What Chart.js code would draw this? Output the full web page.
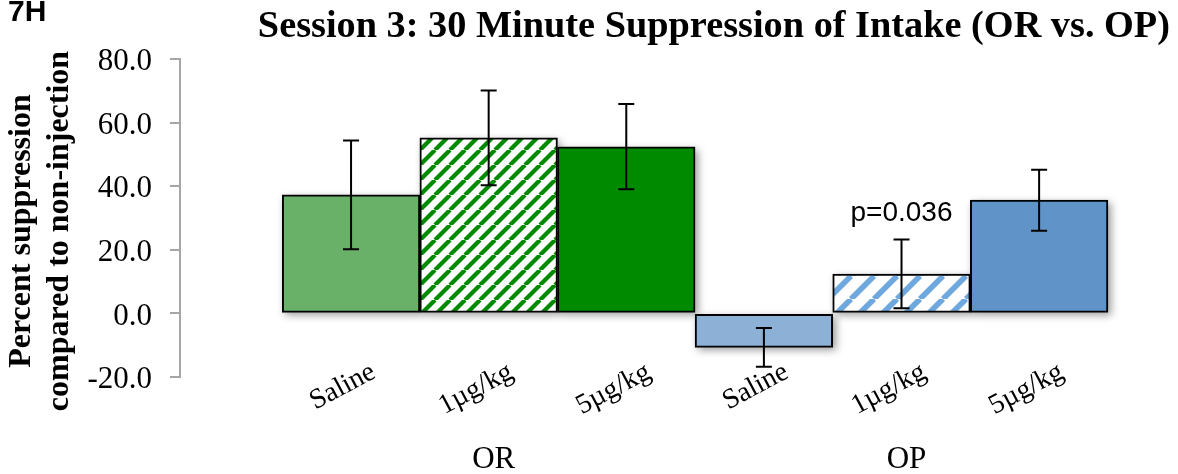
<!DOCTYPE html>
<html>
<head>
<meta charset="utf-8">
<title>Session 3: 30 Minute Suppression of Intake (OR vs. OP)</title>
<script src="https://cdn.jsdelivr.net/npm/chart.js@4.4.1/dist/chart.umd.min.js"></script>
<style>
  html, body { margin: 0; padding: 0; background: #fff; }
  canvas { display: block; }
</style>
</head>
<body>
<canvas id="chart" width="1178" height="474"></canvas>
<script>
const categorias = ["Saline", "1µg/kg", "5µg/kg", "Saline", "1µg/kg", "5µg/kg"];
const grupos = ["OR", "OP"];
const grupoDeBarra = [0, 0, 0, 1, 1, 1];
const supresion = [37.3, 55.2, 52.4, -10.7, 12.4, 35.6];
const errorEstandar = [17.1, 14.9, 13.4, 6.1, 10.8, 9.6];
const yTicks = [-20, 0, 20, 40, 60, 80];
const anotaciones = ["", "", "", "", "p=0.036", ""];

const SERIF = "'Liberation Serif', 'Times New Roman', serif";
const SANS = "'Liberation Sans', Arial, sans-serif";

/* ===========================================
                 RAYADO DIAGONAL
=========================================== */
function rayado(color, paso, grosor) {
  const c = document.createElement("canvas");
  c.width = paso;
  c.height = paso;
  const g = c.getContext("2d");
  g.fillStyle = "#fff";
  g.fillRect(0, 0, paso, paso);
  g.strokeStyle = color;
  g.lineWidth = grosor;
  for (let k = -1; k <= 1; k++) {
    g.beginPath();
    g.moveTo(k * paso, paso);
    g.lineTo(k * paso + paso, 0);
    g.stroke();
  }
  return g.createPattern(c, "repeat");
}

const colores = [
  "#69b068",
  rayado("#008a00", 15, 4.2),
  "#008a00",
  "#8db0d6",
  rayado("#6ea8de", 23, 5.7),
  "#6094c8"
];

/* ===========================================
        SOMBRAS, BARRAS DE ERROR Y TEXTOS
=========================================== */
const decoracion = {
  id: "decoracion",
  beforeDatasetsDraw(chart) {
    const ctx = chart.ctx;
    const barras = chart.getDatasetMeta(0).data;
    ctx.save();
    ctx.shadowColor = "rgba(0,0,0,0.4)";
    ctx.shadowBlur = 8;
    ctx.shadowOffsetX = 3;
    ctx.shadowOffsetY = 3;
    ctx.fillStyle = "#fff";
    barras.forEach(b => {
      const p = b.getProps(["x", "y", "base", "width"], true);
      const top = Math.min(p.y, p.base);
      ctx.fillRect(p.x - p.width / 2, top, p.width, Math.abs(p.base - p.y));
    });
    ctx.restore();
  },
  afterDatasetsDraw(chart) {
    const ctx = chart.ctx;
    const y = chart.scales.y;
    const barras = chart.getDatasetMeta(0).data;
    ctx.save();
    ctx.strokeStyle = "#000";
    ctx.lineWidth = 2;
    barras.forEach((b, i) => {
      const yHi = y.getPixelForValue(supresion[i] + errorEstandar[i]);
      const yLo = y.getPixelForValue(supresion[i] - errorEstandar[i]);
      ctx.beginPath();
      ctx.moveTo(b.x, yHi);
      ctx.lineTo(b.x, yLo);
      ctx.moveTo(b.x - 8, yHi);
      ctx.lineTo(b.x + 8, yHi);
      ctx.moveTo(b.x - 8, yLo);
      ctx.lineTo(b.x + 8, yLo);
      ctx.stroke();
    });
    ctx.restore();
  },
  afterDraw(chart) {
    const ctx = chart.ctx;
    const y = chart.scales.y;
    const barras = chart.getDatasetMeta(0).data;
    ctx.save();
    ctx.fillStyle = "#000";

    // etiquetas de categoría inclinadas
    ctx.font = `28px ${SERIF}`;
    ctx.textAlign = "right";
    ctx.textBaseline = "top";
    barras.forEach((b, i) => {
      ctx.save();
      ctx.translate(b.x + 16, 358);
      ctx.rotate(-28 * Math.PI / 180);
      ctx.fillText(categorias[i], 0, 0);
      ctx.restore();
    });

    // nombres de grupo
    ctx.font = `31px ${SERIF}`;
    ctx.textAlign = "center";
    ctx.textBaseline = "alphabetic";
    grupos.forEach((g, gi) => {
      const xs = barras.filter((b, i) => grupoDeBarra[i] === gi).map(b => b.x);
      const centro = (Math.min(...xs) + Math.max(...xs)) / 2;
      ctx.fillText(g, centro + 5, 468);
    });

    // anotaciones de significancia
    ctx.font = `28px ${SANS}`;
    anotaciones.forEach((txt, i) => {
      if (!txt) return;
      const yHi = y.getPixelForValue(supresion[i] + errorEstandar[i]);
      ctx.fillText(txt, barras[i].x, yHi - 19);
    });

    // título del eje Y
    ctx.font = `bold 32px ${SERIF}`;
    ["Percent suppression", "compared to non-injection"].forEach((linea, k) => {
      ctx.save();
      ctx.translate(29.5 + k * 38, 231);
      ctx.rotate(-Math.PI / 2);
      ctx.fillText(linea, 0, 0);
      ctx.restore();
    });

    // etiqueta del panel
    ctx.font = `bold 30px ${SANS}`;
    ctx.textAlign = "left";
    ctx.fillText("7H", 8, 20.7);
    ctx.restore();
  }
};

/* ===========================================
                    GRÁFICA
=========================================== */
new Chart(document.getElementById("chart"), {
  type: "bar",
  data: {
    datasets: [{
      data: supresion.map((v, i) => ({ x: i, y: v })),
      backgroundColor: colores,
      borderColor: "#000",
      borderWidth: 2,
      borderSkipped: false,
      barPercentage: 1,
      categoryPercentage: 1
    }]
  },
  options: {
    responsive: false,
    animation: false,
    layout: { padding: { top: 0, right: 8, bottom: 97, left: 0 } },
    plugins: {
      legend: { display: false },
      tooltip: { enabled: false },
      title: {
        display: true,
        text: "Session 3: 30 Minute Suppression of Intake (OR vs. OP)",
        align: "end",
        color: "#000",
        font: { family: SERIF, size: 38.3, weight: "bold" },
        padding: { top: 4, bottom: 9 }
      }
    },
    scales: {
      x: {
        type: "linear",
        display: false,
        offset: false,
        min: -1.243,
        max: 5.951,
        afterBuildTicks: s => { s.ticks = categorias.map((c, i) => ({ value: i })); }
      },
      y: {
        min: -20,
        max: 80,
        afterBuildTicks: s => { s.ticks = yTicks.map(v => ({ value: v })); },
        afterFit: s => { s.width = 180; },
        border: { color: "#a6a6a6", width: 2 },
        grid: { drawOnChartArea: false, tickLength: 10, color: "#a6a6a6", lineWidth: 2 },
        ticks: {
          padding: 18,
          labelOffset: 3,
          color: "#000",
          font: { family: SERIF, size: 31 },
          callback: v => v.toFixed(1)
        }
      }
    }
  },
  plugins: [decoracion]
});
</script>
</body>
</html>
